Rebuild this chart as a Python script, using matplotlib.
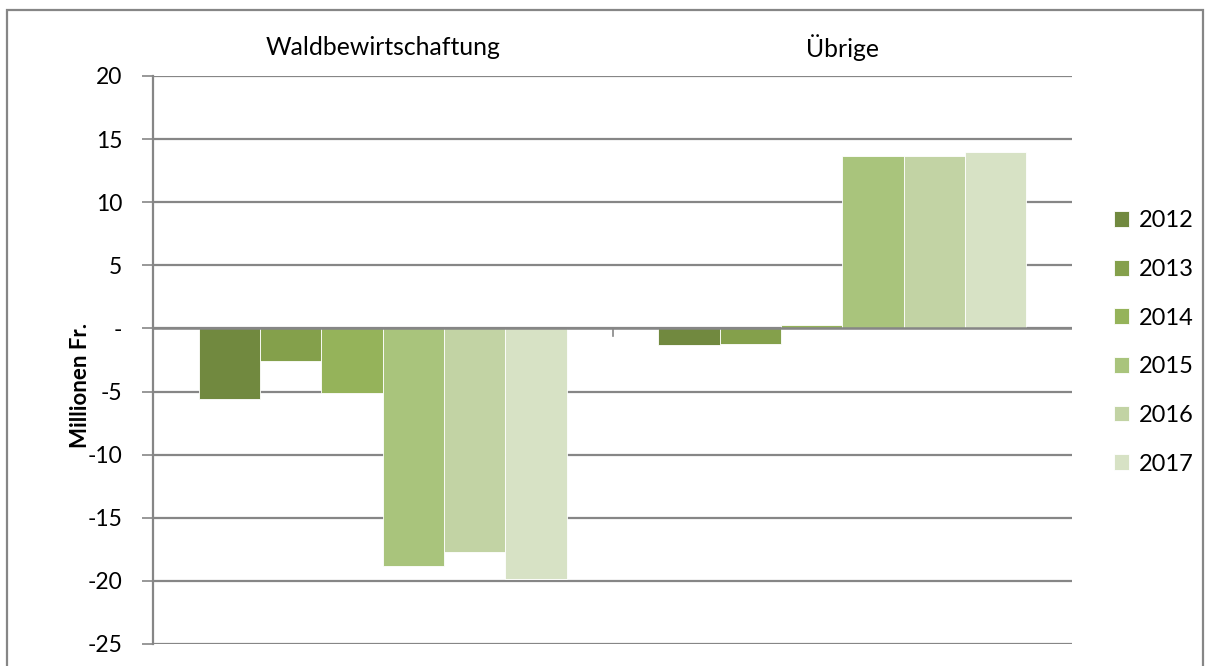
import matplotlib
matplotlib.use("Agg")
import matplotlib.pyplot as plt
from matplotlib.patches import Rectangle
import numpy as np

categories = ["Waldbewirtschaftung", "Übrige"]
years = ["2012", "2013", "2014", "2015", "2016", "2017"]
values = {
    "2012": [-5.6, -1.3],
    "2013": [-2.6, -1.2],
    "2014": [-5.1, 0.3],
    "2015": [-18.8, 13.7],
    "2016": [-17.7, 13.65],
    "2017": [-19.85, 14.0],
}
colors = ["#71893F", "#84A04B", "#95B35A", "#A9C47C", "#C2D3A4", "#D7E2C5"]
yticks = [20, 15, 10, 5, 0, -5, -10, -15, -20, -25]
ytick_labels = ["20", "15", "10", "5", "-", "-5", "-10", "-15", "-20", "-25"]

plt.rcParams['font.family'] = ['Lato', 'DejaVu Sans']

W, H = 1206, 666
fig = plt.figure(figsize=(W / 100, H / 100), dpi=100)
ax = fig.add_axes([153 / W, 1 - 644 / H, (1072 - 153) / W, (644 - 76) / H])

n = len(years)
bw = 0.8 / n
x = np.arange(len(categories)) + 0.5
for i, (yr, c) in enumerate(zip(years, colors)):
    pos = x - 0.4 + bw * (i + 0.5)
    ax.bar(pos, values[yr], width=bw, color=c, edgecolor="#ffffff", linewidth=0.6,
           label=yr, zorder=3)

ax.set_xlim(0, len(categories))
ax.set_ylim(-25, 20)
ax.set_yticks(yticks)
ax.set_yticklabels(ytick_labels, fontsize=16.5)
ax.tick_params(axis='y', length=8, width=1.2, color="#868686", pad=14)
ax.set_xticks([])
for y in yticks:
    ax.axhline(y, color="#868686", linewidth=1.6, zorder=1)
ax.axhline(0, color="#868686", linewidth=1.8, zorder=4)
for xb in [1]:
    ax.plot([xb, xb], [0, -0.6], color="#868686", linewidth=1.2, zorder=4, clip_on=False)

for s in ["top", "right", "bottom"]:
    ax.spines[s].set_visible(False)
ax.spines["left"].set_color("#868686")
ax.spines["left"].set_linewidth(1.6)
ax.spines["left"].set_zorder(5)

for xi, cat in zip(x, categories):
    ax.text(xi, 1.05, cat, transform=ax.get_xaxis_transform(), ha="center", va="center",
            fontsize=17.8)

ax.set_ylabel("Millionen Fr.", fontsize=16, fontweight="bold")
ax.yaxis.set_label_coords(-0.068, 0.455)

leg = ax.legend(loc="upper left", bbox_to_anchor=(1.035, 0.78), frameon=False,
                fontsize=17, handlelength=0.65, handleheight=0.65, handletextpad=0.4,
                labelspacing=1.17, borderaxespad=0)

fig.patches.append(Rectangle((7 / W, -0.1), (1203 - 7) / W, 1.1 - 10 / H,
                             transform=fig.transFigure, fill=False,
                             edgecolor="#868686", linewidth=1.6))

fig.savefig("out.png", dpi=100)
